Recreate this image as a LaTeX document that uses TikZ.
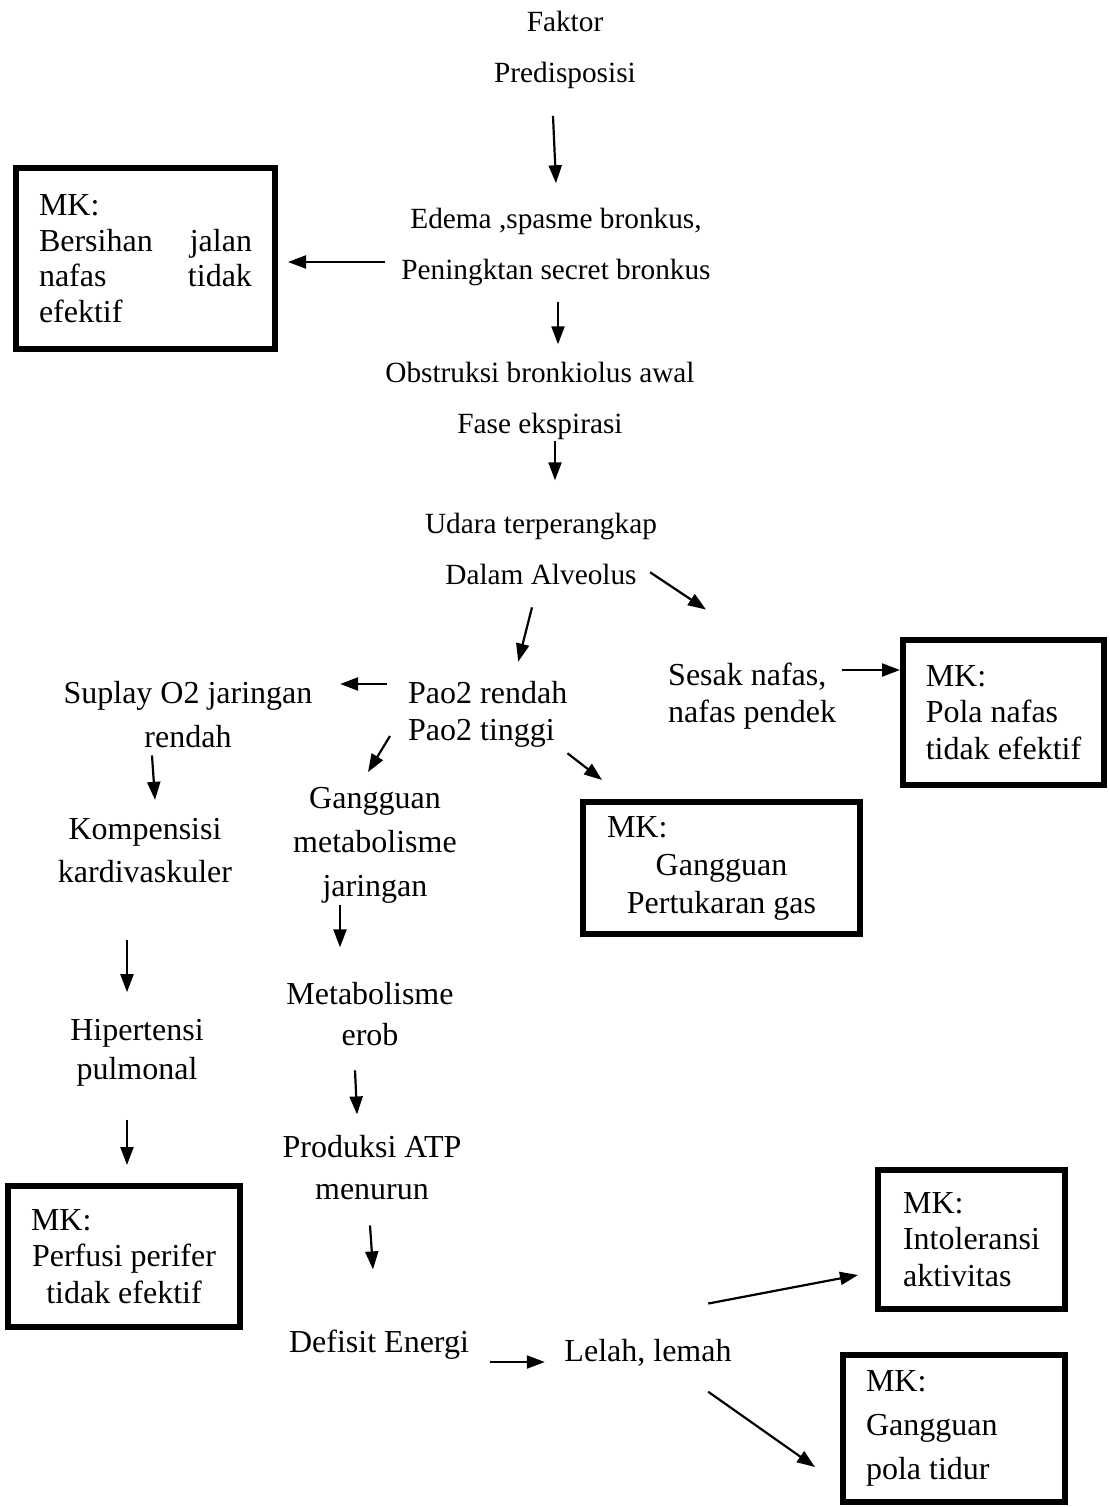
\documentclass[tikz,border=0pt]{standalone}
\usepackage{fontspec}
\setmainfont{Liberation Serif}
\usetikzlibrary{arrows.meta}
\begin{document}
\begin{tikzpicture}[x=1pt,y=-1pt,
  arr/.style={-{Triangle[length=18pt,width=13pt]},line width=2.2pt},
  big/.style={font=\fontsize{29.3}{51}\selectfont,align=center,inner sep=0pt},
  txt/.style={font=\fontsize{32}{#1}\selectfont,align=center,inner sep=0pt},
  txt/.default=40,
  mk/.style={draw,line width=6pt,inner sep=0pt,align=left,font=\fontsize{32}{#1}\selectfont}]
\useasboundingbox (0,0) rectangle (1109,1507);
\node[big] (faktor) at (565,50) {Faktor\\Predisposisi};
\node[big] (edema) at (556,247) {Edema ,spasme bronkus,\\Peningktan secret bronkus};
\node[big] (obstruksi) at (540,401) {Obstruksi bronkiolus awal\\Fase ekspirasi};
\node[big] (udara) at (541,549) {Udara terperangkap\\Dalam Alveolus};
\node[txt=37,align=left,anchor=west] (pao) at (408,714.6) {Pao2 rendah\\Pao2 tinggi};
\node[txt=37,align=left,anchor=west] (sesak) at (668,696.6) {Sesak nafas,\\nafas pendek};
\node[txt=44] (suplay) at (188,714.6) {Suplay O2 jaringan\\rendah};
\node[txt=44] (gangguan) at (375,845) {Gangguan\\metabolisme\\jaringan};
\node[txt=43] (kompensisi) at (145,851) {Kompensisi\\kardivaskuler};
\node[txt=39] (hipertensi) at (137,1052.6) {Hipertensi\\pulmonal};
\node[txt=41] (metabolisme) at (370,1014) {Metabolisme\\erob};
\node[txt=42] (produksi) at (372,1167.6) {Produksi ATP\\menurun};
\node[txt] (defisit) at (379,1345) {Defisit Energi};
\node[txt] (lelah) at (648,1353) {Lelah, lemah};
\node[mk=35.5,minimum width=259pt,minimum height=181pt] (mk1) at (145.5,258.5)
  {MK:\\\hbox to 213pt{Bersihan\hfil jalan}\\\hbox to 213pt{nafas\hfil tidak}\\efektif};
\node[mk=36.5,minimum width=201pt,minimum height=145pt] (mk2) at (1003.5,712.5)
  {MK:\\Pola nafas\\tidak efektif};
\node[mk=38,minimum width=277pt,minimum height=132pt] (mk3) at (721.5,868)
  {MK:\\\hbox to 229pt{\hfil Gangguan\hfil}\\\hbox to 229pt{\hfil Pertukaran gas\hfil}};
\node[mk=36.5,minimum width=232pt,minimum height=141pt] (mk4) at (124,1256.5)
  {MK:\\\hbox to 186pt{\hfil Perfusi perifer\hfil}\\\hbox to 186pt{\hfil tidak efektif\hfil}};
\node[mk=36.5,minimum width=187pt,minimum height=139pt] (mk5) at (971.5,1239.5)
  {MK:\\Intoleransi\\aktivitas};
\node[mk=44,minimum width=222pt,minimum height=147pt] (mk6) at (954,1428.5)
  {\hbox to 176pt{MK:\hfil}\\Gangguan\\pola tidur};
\draw[arr] ([shift={(-12pt,-26.9pt)}]faktor.south) -- ([yshift=24.7pt]edema.north);
\draw[arr] ([shift={(-16.5pt,-15pt)}]edema.west) -- ([shift={(10pt,-3.5pt)}]mk1.east);
\draw[arr] ([shift={(2pt,-16pt)}]edema.south) -- ([shift={(18pt,17.7pt)}]obstruksi.north);
\draw[arr] ([shift={(15pt,-1pt)}]obstruksi.south) -- ([shift={(14pt,32.7pt)}]udara.north);
\draw[arr] ([shift={(-7pt,12.7pt)}]udara.south east) -- ([shift={(38pt,53.7pt)}]sesak.north west);
\draw[arr] ([shift={(-9pt,-22.3pt)}]udara.south) -- ([shift={(30.5pt,19.7pt)}]pao.north);
\draw[arr] ([shift={(-21pt,30.6pt)}]pao.west) -- ([shift={(27.5pt,30.6pt)}]suplay.east);
\draw[arr] ([shift={(-18pt,-21.4pt)}]pao.west) -- ([shift={(-7pt,14.7pt)}]gangguan.north);
\draw[arr] ([yshift=-5.4pt]pao.south east) -- ([shift={(22pt,19pt)}]mk3.north west);
\draw[arr] ([shift={(6pt,26.6pt)}]sesak.east) -- ([yshift=42.5pt]mk2.west);
\draw[arr] ([shift={(-36pt,-7.4pt)}]suplay.south) -- ([shift={(10pt,18.7pt)}]kompensisi.north);
\draw[arr] ([shift={(-35pt,-1.4pt)}]gangguan.south) -- ([shift={(-30pt,34.7pt)}]metabolisme.north);
\draw[arr] ([shift={(-18pt,-56.4pt)}]kompensisi.south) -- ([shift={(-10pt,26.7pt)}]hipertensi.north);
\draw[arr] ([shift={(-15pt,-24.4pt)}]metabolisme.south) -- ([shift={(-15pt,20.7pt)}]produksi.north);
\draw[arr] ([shift={(-10pt,-33.4pt)}]hipertensi.south) -- ([shift={(3pt,18pt)}]mk4.north);
\draw[arr] ([shift={(-2pt,-25.4pt)}]produksi.south) -- ([shift={(-6pt,60.7pt)}]defisit.north);
\draw[arr] ([shift={(21pt,-17pt)}]defisit.east) -- ([shift={(-19.5pt,-9pt)}]lelah.west);
\draw[arr] ([shift={(-23.5pt,35.7pt)}]lelah.north east) -- ([shift={(-17pt,-35.5pt)}]mk5.west);
\draw[arr] ([shift={(-23.5pt,-25pt)}]lelah.south east) -- ([shift={(-25pt,-38.5pt)}]mk6.west);
\end{tikzpicture}
\end{document}
